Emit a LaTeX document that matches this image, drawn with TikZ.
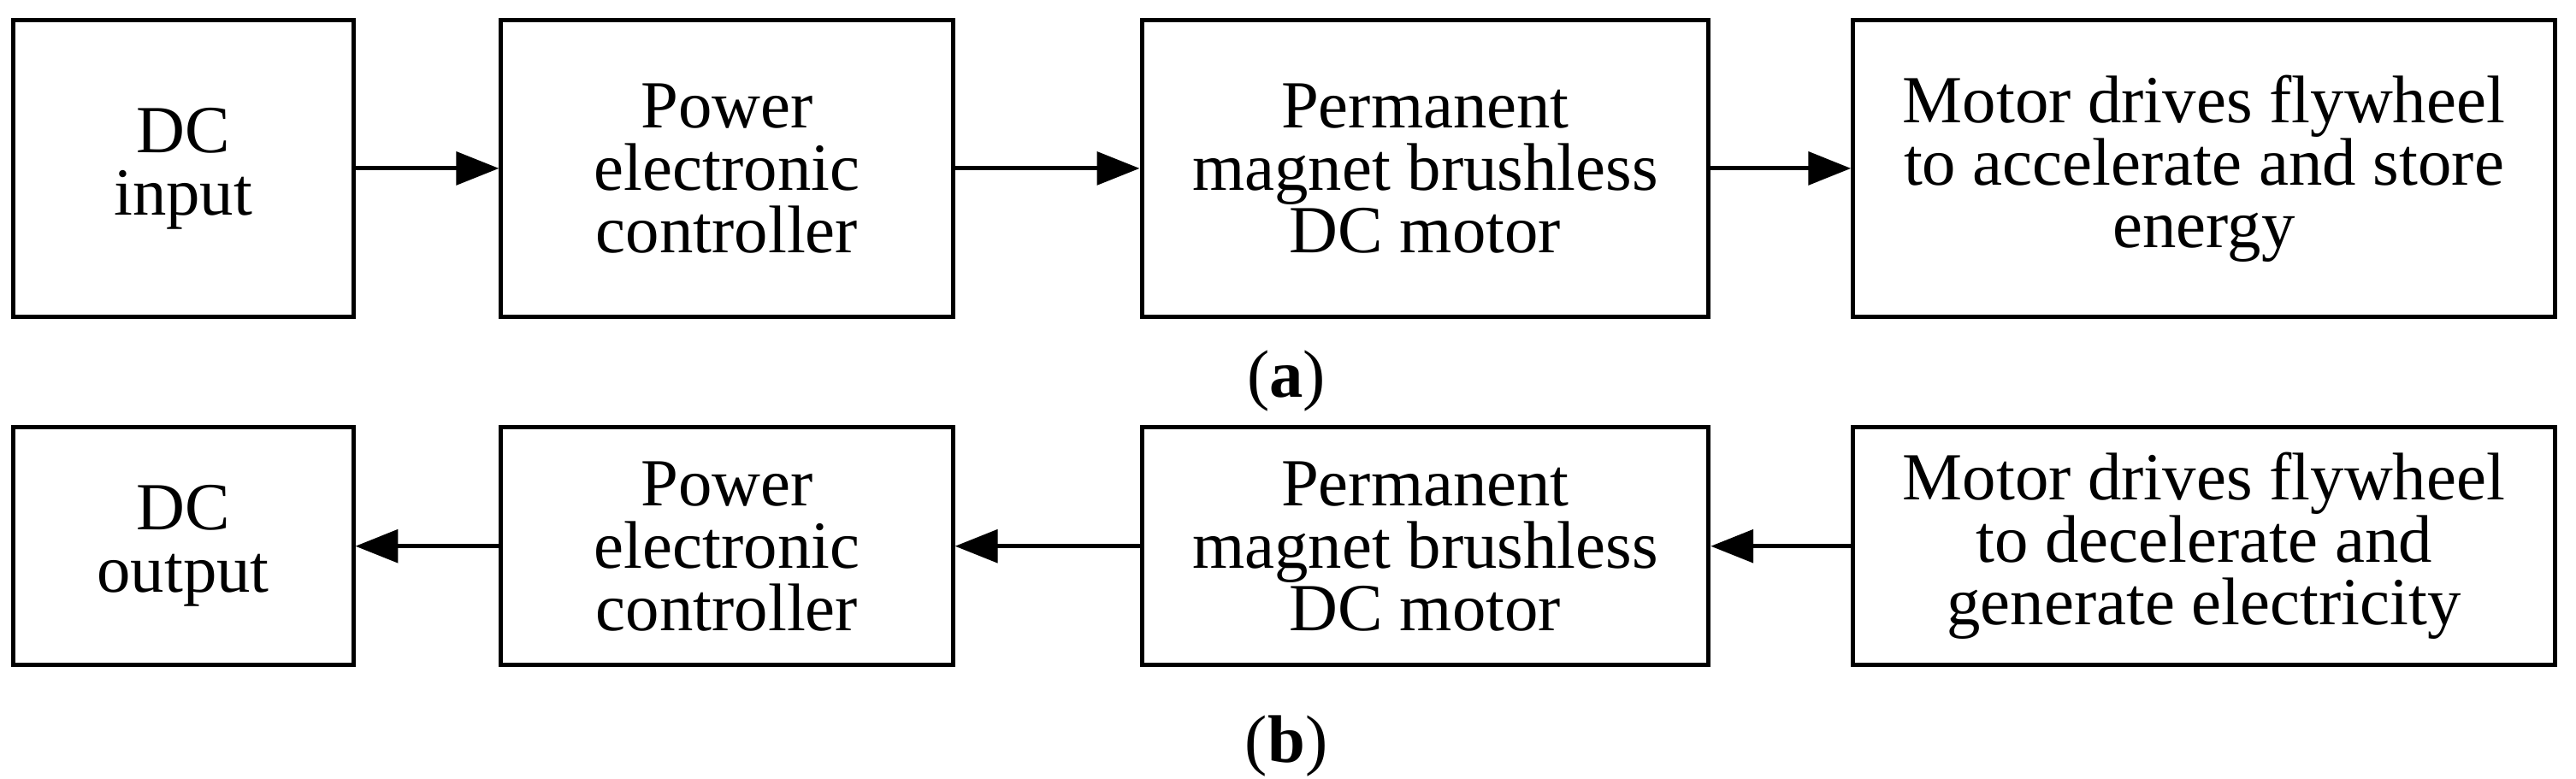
\documentclass[tikz,border=0pt]{standalone}
\usepackage{fontspec}
\setmainfont{Liberation Serif}
\usetikzlibrary{arrows.meta}
\begin{document}
\begin{tikzpicture}[x=1pt,y=-1pt,
  box/.style={draw,line width=2.6pt,minimum height=#1,align=center,font=\fontsize{41}{38}\selectfont,inner sep=0pt},
  arr/.style={line width=2.6pt,-{Triangle[length=26pt,width=20pt]}},
  lab/.style={font=\fontsize{41}{38}\selectfont}]
\useasboundingbox (0,0) rectangle (1568,474);
% row a
\node[box=181pt,minimum width=207pt] (a1) at (111.5,102.5) {DC\\input};
\node[box=181pt,minimum width=275pt] (a2) at (442.5,102.5) {Power\\electronic\\controller};
\node[box=181pt,minimum width=345pt] (a3) at (867.5,102.5) {Permanent\\magnet brushless\\DC motor};
\node[box=181pt,minimum width=427pt] (a4) at (1341.5,102.5) {Motor drives flywheel\\to accelerate and store\\energy};
\draw[arr] (a1) -- (a2);
\draw[arr] (a2) -- (a3);
\draw[arr] (a3) -- (a4);
\node[lab] (la) at (783,232) {(\textbf{a})};
% row b
\node[box=145pt,minimum width=207pt] (b1) at (111.5,332.5) {DC\\output};
\node[box=145pt,minimum width=275pt] (b2) at (442.5,332.5) {Power\\electronic\\controller};
\node[box=145pt,minimum width=345pt] (b3) at (867.5,332.5) {Permanent\\magnet brushless\\DC motor};
\node[box=145pt,minimum width=427pt] (b4) at (1341.5,332.5) {Motor drives flywheel\\to decelerate and\\generate electricity};
\draw[arr] (b4) -- (b3);
\draw[arr] (b3) -- (b2);
\draw[arr] (b2) -- (b1);
\node[lab] (lb) at (783,454) {(\textbf{b})};
\end{tikzpicture}
\end{document}
